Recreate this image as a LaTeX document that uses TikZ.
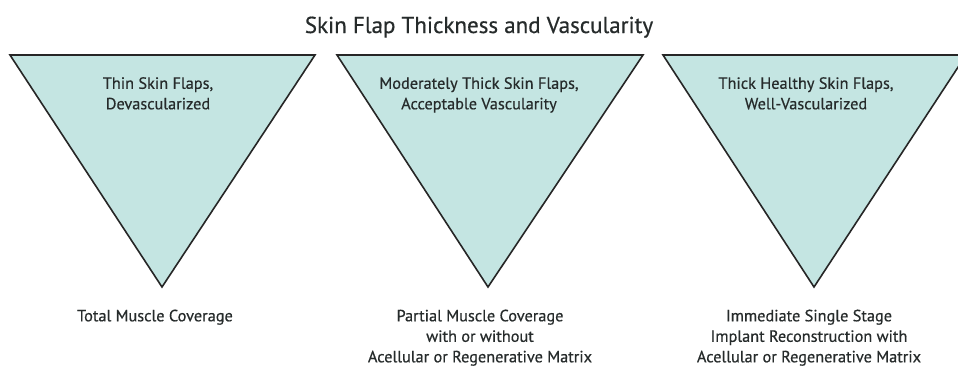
\documentclass[tikz,border=0pt]{standalone}
\usepackage{fontspec}
\setmainfont{PT Sans}[FakeBold=0.5]
\definecolor{flapfill}{HTML}{C4E5E2}
\definecolor{txt}{HTML}{262B2B}
\tikzset{
  tri/.style={draw=black!85, fill=flapfill, line width=1.6pt, line join=miter},
  lbl/.style={text=txt, font=\fontsize{16.3}{20.5}\selectfont, align=center, inner sep=0pt, anchor=north},
  ttl/.style={text=txt, font=\fontsize{23}{26}\selectfont, inner sep=0pt, anchor=base}
}
\begin{document}
\begin{tikzpicture}[x=1pt,y=-1pt]
\useasboundingbox (0,0) rectangle (958,367);
\fill[white] (0,0) rectangle (958,367);
\node[ttl] (title) at (479,33) {Skin Flap Thickness and Vascularity};
\draw[tri] (10,55) -- (315,55) -- (162,287) -- cycle;
\draw[tri] (337,55) -- (643,55) -- (488,287) -- cycle;
\draw[tri] (663,55) -- (966,55) -- (814,287) -- cycle;
\node[lbl] (t1) at (158,77) {Thin Skin Flaps,\\Devascularized};
\node[lbl] (t2) at (479,77) {Moderately Thick Skin Flaps,\\Acceptable Vascularity};
\node[lbl] (t3) at (806,77) {Thick Healthy Skin Flaps,\\Well-Vascularized};
\node[lbl] (b1) at (155,309.5) {Total Muscle Coverage};
\node[lbl] (b2) at (480,309.5) {Partial Muscle Coverage\\with or without\\Acellular or Regenerative Matrix};
\node[lbl] (b3) at (809,309.5) {Immediate Single Stage\\Implant Reconstruction with\\Acellular or Regenerative Matrix};
\end{tikzpicture}
\end{document}
